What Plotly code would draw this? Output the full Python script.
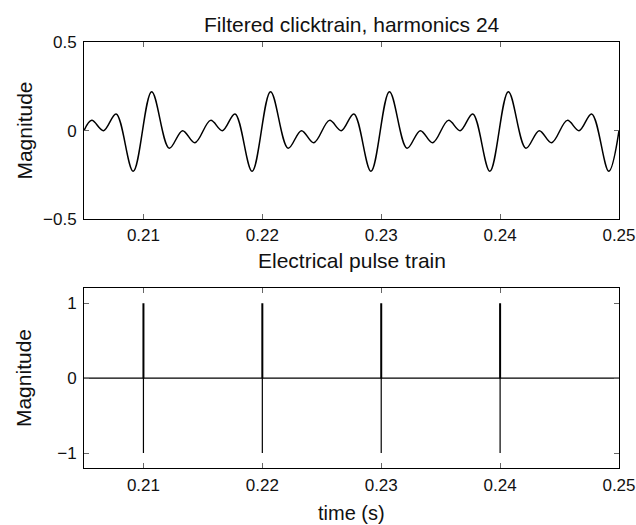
import plotly.graph_objects as go

# Top panel: filtered click train (values read at extrema of the waveform)
wave_t = [0.205, 0.20565, 0.20664, 0.2077, 0.20914,
          0.21069, 0.21217, 0.21329, 0.21433, 0.21565, 0.21664, 0.2177, 0.21914,
          0.22069, 0.22217, 0.22329, 0.22433, 0.22565, 0.22664, 0.2277, 0.22914,
          0.23069, 0.23217, 0.23329, 0.23433, 0.23565, 0.23664, 0.2377, 0.23914,
          0.24069, 0.24217, 0.24329, 0.24433, 0.24565, 0.24664, 0.2477, 0.24914,
          0.25]
wave_v = [0.0, 0.058, 0.0, 0.094, -0.229,
          0.22, -0.099, 0.0, -0.068, 0.058, 0.0, 0.094, -0.229,
          0.22, -0.099, 0.0, -0.068, 0.058, 0.0, 0.094, -0.229,
          0.22, -0.099, 0.0, -0.068, 0.058, 0.0, 0.094, -0.229,
          0.22, -0.099, 0.0, -0.068, 0.058, 0.0, 0.094, -0.229,
          0.0]

# Bottom panel: electrical pulse train
pulse_times = [0.21, 0.22, 0.23, 0.24]
pulse_high = 1
pulse_low = -1
t_start, t_end = 0.205, 0.25

x_ticks = [0.21, 0.22, 0.23, 0.24, 0.25]
x_tick_labels = ["0.21", "0.22", "0.23", "0.24", "0.25"]
top_y_ticks = [-0.5, 0, 0.5]
top_y_labels = ["\u22120.5", "0", "0.5"]
bot_y_ticks = [-1, 0, 1]
bot_y_labels = ["\u22121", "0", "1"]

# baseline + negative halves
bx, by = [t_start], [0]
for t in pulse_times:
    bx += [t, t, t]
    by += [0, pulse_low, 0]
bx.append(t_end)
by.append(0)
# positive halves (drawn slightly heavier, as in the reference)
ux, uy = [], []
for t in pulse_times:
    ux += [t, t, None]
    uy += [0, pulse_high, None]

fig = go.Figure()
fig.add_trace(go.Scatter(x=wave_t, y=wave_v, mode="lines",
                         line=dict(color="black", width=1.5, shape="spline", smoothing=1.0),
                         xaxis="x", yaxis="y", showlegend=False, hoverinfo="skip"))
fig.add_trace(go.Scatter(x=bx, y=by, mode="lines",
                         line=dict(color="black", width=1.2),
                         xaxis="x2", yaxis="y2", showlegend=False, hoverinfo="skip"))
fig.add_trace(go.Scatter(x=ux, y=uy, mode="lines",
                         line=dict(color="black", width=2),
                         xaxis="x2", yaxis="y2", showlegend=False, hoverinfo="skip"))

fam = "Liberation Sans, Arial, Helvetica, sans-serif"
tickfont = dict(family=fam, size=17, color="#111")
labfont = dict(family=fam, size=21, color="#111")
axcommon = dict(showgrid=False, zeroline=False, showline=True, linecolor="black",
                linewidth=1, mirror="ticks", ticks="inside", ticklen=5,
                tickcolor="#666", tickwidth=1, tickfont=tickfont,
                ticklabeloverflow="allow", automargin=False)
xr = [t_start, t_end + 1e-6]

fig.update_layout(
    width=636, height=525,
    margin=dict(l=84, r=17, t=42, b=57),
    plot_bgcolor="white", paper_bgcolor="white",
    font=tickfont,
    xaxis=dict(domain=[0, 1], range=xr, tickvals=x_ticks,
               ticktext=x_tick_labels, anchor="y", **axcommon),
    yaxis=dict(domain=[0.5838, 1], range=[-0.5, 0.5], tickvals=top_y_ticks,
               ticktext=top_y_labels, anchor="x", ticklabelstandoff=3, **axcommon),
    xaxis2=dict(domain=[0, 1], range=xr, tickvals=x_ticks,
                ticktext=x_tick_labels, anchor="y2", ticklabelstandoff=2, **axcommon),
    yaxis2=dict(domain=[0, 0.4218], range=[-1.2, 1.2], tickvals=bot_y_ticks,
                ticktext=bot_y_labels, anchor="x2", ticklabelstandoff=3, **axcommon),
    annotations=[
        dict(text="Filtered clicktrain, harmonics 24", x=0.5, y=1.0415, xref="paper",
             yref="paper", showarrow=False, font=labfont, xanchor="center", yanchor="middle"),
        dict(text="Electrical pulse train", x=0.5, y=0.4876, xref="paper",
             yref="paper", showarrow=False, font=labfont, xanchor="center", yanchor="middle"),
        dict(text="time (s)", x=0.5, y=-0.1045, xref="paper", yref="paper",
             showarrow=False, font=dict(labfont, size=20), xanchor="center", yanchor="middle"),
        dict(text="Magnitude", x=-0.112, y=0.7923, xref="paper", yref="paper",
             showarrow=False, textangle=-90, font=labfont, xanchor="center", yanchor="middle"),
        dict(text="Magnitude", x=-0.112, y=0.2113, xref="paper", yref="paper",
             showarrow=False, textangle=-90, font=labfont, xanchor="center", yanchor="middle"),
    ],
)

fig.write_html("out.html", config={"displayModeBar": False},
               post_script="document.body.style.margin='0';document.body.style.overflow='hidden';")
